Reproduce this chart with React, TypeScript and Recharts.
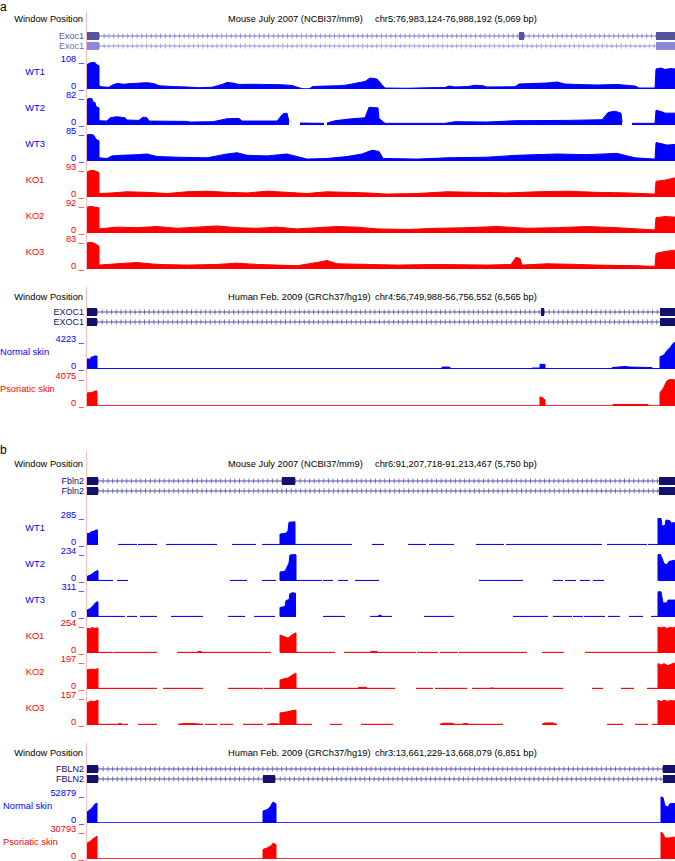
import React from 'react'
import { AreaChart, Area, XAxis, YAxis, ComposedChart, Line, ReferenceArea } from 'recharts'

type Pt = [number, number | null]
type Exon = [number, number]

// every browser window is split into 588 bins (one per screen column of the track)
const BINS = 588
const TRACK_H = 27
const X0 = 87
const FONT = '"Liberation Sans", Arial, Helvetica, sans-serif'
const BLUE = '#0000ff'
const RED = '#ff0000'

// ---- panel a, mouse Exoc1 (chr5:76,983,124-76,988,192) ----
const wt1A: Pt[] = [[0, 98], [3, 104], [6, 108], [8, 106], [10, 96], [12, 94], [12, 14], [14, 9], [22, 7], [25, 15], [30, 22], [37, 19], [42, 21], [50, 23], [58, 25], [63, 24], [68, 20], [72, 13], [85, 10], [100, 8], [112, 5], [125, 7], [135, 18], [140, 26], [146, 24], [152, 18], [165, 19], [180, 18], [195, 17], [205, 14], [212, 5], [216, 1], [222, 1], [226, 10], [240, 12], [252, 13], [260, 16], [270, 24], [278, 30], [283, 44], [290, 40], [296, 12], [298, 4], [320, 3], [340, 5], [358, 6], [362, 12], [368, 8], [381, 10], [388, 15], [396, 13], [400, 8], [428, 9], [432, 20], [445, 22], [460, 24], [470, 28], [478, 20], [490, 18], [510, 16], [530, 18], [548, 12], [552, 4], [568, 4], [569, 80], [574, 84], [578, 78], [584, 82], [588, 80]]
const wt2A: Pt[] = [[0, 78], [3, 82], [5, 80], [6, 70], [8, 68], [9, 56], [12, 52], [12, 13], [20, 12], [23, 22], [30, 25], [38, 22], [40, 15], [52, 14], [56, 24], [60, 22], [62, 12], [100, 11], [103, 9], [126, 10], [140, 19], [152, 20], [155, 12], [190, 12], [196, 34], [200, 36], [202, 10], [207, null], [213, 6], [237, 5], [239, null], [240, 6], [248, 13], [262, 18], [278, 22], [282, 54], [291, 52], [292, 20], [298, 5], [358, 5], [368, 10], [400, 9], [428, 13], [480, 14], [515, 16], [521, 38], [528, 42], [534, 36], [535, 8], [538, null], [545, 5], [568, 5], [569, 45], [575, 40], [578, 36], [588, 36]]
const wt3A: Pt[] = [[0, 82], [4, 85], [7, 80], [9, 68], [12, 64], [12, 10], [20, 8], [25, 16], [35, 18], [50, 20], [60, 22], [70, 14], [90, 12], [120, 10], [140, 22], [150, 26], [160, 18], [180, 16], [200, 22], [210, 14], [220, 6], [240, 8], [260, 14], [275, 22], [285, 34], [292, 30], [296, 8], [330, 6], [360, 10], [400, 12], [430, 18], [470, 22], [500, 20], [530, 24], [548, 10], [568, 6], [569, 58], [575, 54], [580, 50], [588, 52]]
const ko1A: Pt[] = [[0, 86], [4, 92], [8, 90], [12, 84], [12, 12], [25, 14], [40, 18], [60, 16], [80, 12], [100, 18], [120, 20], [140, 16], [160, 14], [180, 20], [200, 16], [220, 12], [240, 18], [260, 16], [280, 14], [300, 10], [330, 12], [360, 18], [390, 16], [420, 14], [450, 18], [480, 20], [510, 16], [540, 14], [568, 10], [569, 54], [578, 58], [588, 66]]
const ko2A: Pt[] = [[0, 88], [4, 92], [8, 88], [12, 86], [12, 14], [30, 20], [50, 18], [70, 22], [90, 16], [110, 20], [130, 24], [150, 18], [170, 16], [190, 20], [210, 14], [230, 18], [250, 22], [270, 20], [290, 14], [320, 12], [350, 16], [380, 18], [410, 22], [440, 16], [470, 18], [500, 22], [530, 18], [560, 12], [568, 10], [569, 52], [578, 56], [588, 54]]
const ko3A: Pt[] = [[0, 80], [4, 83], [8, 78], [12, 70], [12, 12], [30, 16], [50, 20], [70, 14], [100, 12], [130, 14], [150, 18], [170, 14], [190, 12], [210, 10], [230, 20], [240, 26], [250, 16], [280, 14], [310, 12], [350, 14], [400, 12], [424, 14], [429, 36], [433, 32], [435, 12], [460, 16], [490, 14], [510, 12], [550, 10], [568, 8], [569, 48], [578, 54], [588, 58]]
const exoc1Mouse: Exon[][] = [[[0, 12], [432, 437], [569, 588]], [[0, 12], [569, 588]]]

// ---- panel a, human EXOC1 (chr4:56,749,988-56,756,552) ----
const normalA: Pt[] = [[0, 1560], [4, 1560], [4, 1870], [7, 1870], [7, 2030], [10, 2030], [10, 60], [355, 60], [355, 300], [363, 300], [363, 60], [445, 60], [445, 150], [453, 150], [453, 750], [458, 700], [458, 60], [525, 60], [525, 230], [538, 390], [543, 300], [565, 230], [565, 60], [573, 60], [573, 1900], [577, 2200], [580, 2900], [583, 3300], [586, 4000], [588, 4223]]
const psorA: Pt[] = [[0, 1960], [5, 2050], [8, 2260], [10, 2260], [10, 40], [453, 40], [453, 1400], [456, 1200], [458, 900], [458, 40], [526, 40], [526, 230], [561, 230], [561, 40], [573, 40], [573, 2000], [576, 2600], [580, 3800], [584, 4075], [588, 3900]]
const exoc1Human: Exon[][] = [[[0, 10], [454, 457], [573, 588]], [[0, 10], [573, 588]]]

// ---- panel b, mouse Fbln2 (chr6:91,207,718-91,213,467) ----
const wt1B: Pt[] = [[0, 120], [3, 125], [4, 140], [7, 145], [8, 155], [11, 158], [20, null], [31, 6], [50, 6], [50.5, null], [51, 6], [70, 6], [75, null], [79, 6], [130, 6], [138, null], [145, 6], [169, 6], [172, null], [175, 6], [193, 6], [193, 115], [199, 125], [200, 140], [201, 150], [202, 240], [208, 245], [208, 6], [265, 6], [275, null], [285, 6], [297, 6], [310, null], [321, 6], [339, 6], [340, null], [342, 6], [367, 6], [380, null], [389, 6], [417, 6], [418, null], [419, 6], [515, 6], [517, null], [520, 6], [560, 6], [560.5, null], [561, 6], [571, 6], [571, 285], [574, 280], [575, 200], [578, 205], [579, 264], [583, 255], [584, 232], [588, 235]]
const wt2B: Pt[] = [[0, 40], [3, 50], [5, 60], [8, 80], [10, 88], [11, 90], [11, 5], [26, 5], [28, null], [30, 5], [41, 5], [90, null], [143, 5], [160, 5], [167, null], [175, 5], [189, 5], [191, null], [193, 5], [193, 78], [198, 85], [200, 120], [202, 156], [203, 225], [208, 230], [209, 225], [209, 5], [235, 5], [235.5, null], [236, 5], [246, 5], [248, null], [251, 5], [261, 5], [264, null], [268, 5], [292, 5], [340, null], [392, 5], [436, 5], [450, null], [466, 5], [476, 5], [477, null], [478, 5], [489, 5], [491, null], [493, 5], [503, 5], [504, null], [506, 5], [517, 5], [540, null], [571, 5], [571, 230], [573, 234], [575, 200], [577, 150], [580, 140], [582, 170], [588, 180]]
const wt3B: Pt[] = [[0, 80], [3, 95], [6, 130], [9, 170], [11, 175], [11, 7], [38, 7], [39, null], [40, 7], [50, 7], [51, null], [53, 7], [70, 7], [77, null], [84, 7], [116, 7], [130, null], [141, 7], [158, 7], [162, null], [167, 7], [188, 7], [190, null], [193, 7], [193, 110], [198, 120], [199, 190], [202, 200], [203, 270], [206, 280], [209, 270], [220, null], [236, 7], [258, 7], [270, null], [283, 7], [291, 7], [292, 20], [294, 20], [295, 7], [305, 7], [320, null], [337, 7], [367, 7], [400, null], [426, 7], [461, 7], [463, null], [466, 7], [485, 7], [485.5, null], [486, 7], [496, 7], [496.5, null], [497, 7], [518, 7], [519, null], [521, 7], [533, 7], [537, null], [542, 7], [556, 7], [560, null], [564, 7], [571, 7], [571, 290], [574, 290], [576, 160], [580, 165], [581, 195], [588, 195]]
const ko1B: Pt[] = [[0, 235], [3, 225], [5, 240], [8, 230], [11, 238], [11, 6], [26, 6], [26.5, null], [27, 6], [70, 6], [80, null], [90, 6], [110, 6], [111, 14], [114, 14], [115, 6], [184, 6], [188, null], [193, 6], [193, 170], [197, 155], [201, 140], [205, 170], [209, 190], [209, 6], [248, 6], [252, null], [257, 6], [283, 6], [284, 15], [290, 15], [291, 6], [329, 6], [329.5, null], [330, 6], [351, 6], [352, null], [353, 6], [371, 6], [371.5, null], [372, 6], [440, 6], [448, null], [455, 6], [477, 6], [488, null], [498, 6], [571, 6], [571, 245], [574, 235], [577, 245], [580, 230], [583, 240], [586, 235], [588, 245]]
const ko2B: Pt[] = [[0, 140], [5, 145], [8, 140], [11, 150], [11, 5], [70, 5], [73, null], [76, 5], [116, 5], [130, null], [141, 5], [176, 5], [176.5, null], [177, 5], [193, 5], [193, 65], [197, 75], [201, 80], [205, 100], [209, 117], [209, 5], [271, 5], [272, 12], [279, 12], [280, 5], [308, 5], [318, null], [329, 5], [346, 5], [347, null], [348, 5], [380, 5], [382, null], [385, 5], [404, 5], [405, 10], [407, 5], [476, 5], [490, null], [505, 5], [516, 5], [525, null], [534, 5], [547, 5], [553, null], [560, 5], [571, 5], [571, 185], [574, 175], [577, 185], [581, 170], [584, 180], [588, 190]]
const ko3B: Pt[] = [[0, 128], [4, 140], [7, 135], [11, 145], [11, 4], [31, 4], [33, 10], [35, 4], [41, 4], [46, null], [51, 4], [70, 4], [80, null], [91, 4], [96, 8], [106, 8], [116, 4], [117, null], [118, 4], [130, 4], [131, null], [133, 4], [146, 4], [150, null], [156, 4], [176, 4], [178, null], [180, 4], [185, 7], [190, 7], [193, 4], [193, 70], [199, 75], [204, 82], [209, 87], [209, 4], [225, 4], [235, null], [243, 4], [255, 4], [265, null], [274, 4], [306, 4], [330, null], [353, 4], [356, 10], [365, 10], [368, 4], [375, 4], [377, 8], [380, 8], [382, 4], [416, 4], [435, null], [455, 4], [458, 12], [466, 12], [470, 4], [495, null], [520, 4], [536, 4], [542, null], [548, 4], [561, 4], [563, null], [565, 4], [571, 4], [571, 145], [574, 135], [577, 145], [580, 138], [584, 142], [588, 140]]
const fbln2Mouse: Exon[][] = [[[0, 11], [195, 208], [572, 588]], [[0, 11], [572, 588]]]

// ---- panel b, human FBLN2 (chr3:13,661,229-13,668,079) ----
const normalB: Pt[] = [[0, 21500], [3, 26000], [6, 32000], [8, 37000], [10, 39000], [10, 400], [176, 400], [176, 23500], [180, 26000], [183, 31000], [186, 41000], [188, 39000], [189, 37000], [189, 400], [574, 400], [574, 51000], [576, 50000], [578, 34000], [581, 31000], [583, 38000], [588, 38000]]
const psorB: Pt[] = [[0, 18000], [3, 20000], [6, 23000], [10, 26000], [10, 250], [176, 250], [176, 11000], [180, 12500], [184, 15000], [186, 18000], [189, 16500], [189, 250], [574, 250], [574, 30793], [576, 29000], [578, 24000], [582, 24000], [588, 25000]]
const fbln2Human: Exon[][] = [[[0, 11], [576, 588]], [[0, 11], [176, 188], [576, 588]]]

type Align = 'left' | 'right' | 'center'

function Txt({ x, y, children, align = 'left', color = '#000', size = 9.3 }: { x: number; y: number; children: React.ReactNode; align?: Align; color?: string; size?: number }) {
  // y is the visual middle of the capitals
  const style: React.CSSProperties = {
    position: 'absolute', top: y - 3.9, fontSize: size, lineHeight: '8px', color,
    whiteSpace: 'nowrap', fontFamily: FONT,
  }
  if (align === 'right') style.right = 675 - x
  else if (align === 'center') { style.left = x - 40; style.width = 80; style.textAlign = 'center' }
  else style.left = x
  return <div style={style}>{children}</div>
}

function Coverage({ top, pts, max, color, name, nameX = 35, nameAlign = 'center' }: { top: number; pts: Pt[]; max: number; color: string; name: string; nameX?: number; nameAlign?: Align }) {
  const data = pts.map(([x, y]) => ({ x, y }))
  return (
    <>
      <Txt x={nameX} y={top + 9.5} align={nameAlign} color={color}>{name}</Txt>
      <Txt x={84} y={top - 3.3} align="right" color={color}>{max} _</Txt>
      <Txt x={84} y={top + TRACK_H - 3.3} align="right" color={color}>0 _</Txt>
      <div style={{ position: 'absolute', left: X0, top }}>
        <AreaChart width={BINS} height={TRACK_H} data={data} margin={{ top: 0, right: 0, bottom: 0, left: 0 }}>
          <XAxis type="number" dataKey="x" domain={[0, BINS]} hide />
          <YAxis type="number" domain={[0, max]} allowDataOverflow hide />
          <Area
            type="linear" dataKey="y" fill={color} fillOpacity={1} stroke={color} strokeWidth={1}
            connectNulls={false} dot={false} activeDot={false} isAnimationActive={false}
          />
        </AreaChart>
      </div>
    </>
  )
}

function Gene({ top, rows, label, exonColors, intronColors, labelColors }: { top: number; rows: Exon[][]; label: string; exonColors: string[]; intronColors: string[]; labelColors: string[] }) {
  // intron pieces run between consecutive exons
  const introns = rows.map((exons, r) => {
    const out: { x: number; y: number | null }[] = []
    for (let i = 0; i < exons.length - 1; i++) {
      out.push({ x: exons[i][1], y: r + 0.5 }, { x: exons[i + 1][0], y: r + 0.5 })
      out.push({ x: (exons[i + 1][0] + exons[i + 1][1]) / 2, y: null })
    }
    return out
  })
  return (
    <>
      {rows.map((_, r) => (
        <Txt key={r} x={84} y={top + 5 + r * 10} align="right" color={labelColors[r]} size={9}>{label}</Txt>
      ))}
      <div style={{ position: 'absolute', left: X0, top }}>
        <ComposedChart width={BINS} height={20} margin={{ top: 0, right: 0, bottom: 0, left: 0 }}>
          <XAxis type="number" dataKey="x" domain={[0, BINS]} hide />
          <YAxis type="number" domain={[0, 2]} reversed hide />
          {introns.map((d, r) => (
            <Line key={'a' + r} data={d} dataKey="y" type="linear" stroke={intronColors[r]} strokeWidth={1}
              dot={false} activeDot={false} connectNulls={false} isAnimationActive={false} />
          ))}
          {introns.map((d, r) => (
            <Line key={'b' + r} data={d} dataKey="y" type="linear" stroke={intronColors[r]} strokeWidth={5}
              strokeDasharray="1 3.7" strokeOpacity={0.75} dot={false} activeDot={false} connectNulls={false} isAnimationActive={false} />
          ))}
          {rows.map((exons, r) => exons.map(([s, e], i) => (
            <ReferenceArea key={r + '-' + i} x1={s} x2={e} y1={r + 0.1} y2={r + 0.9}
              fill={exonColors[r]} fillOpacity={1} stroke="none" ifOverflow="visible" />
          )))}
        </ComposedChart>
      </div>
    </>
  )
}

function Pink({ y1, y2 }: { y1: number; y2: number }) {
  return <div style={{ position: 'absolute', left: 85.5, top: y1, width: 1.3, height: y2 - y1, background: '#ffbcbc' }} />
}

function Header({ y, assembly, pos }: { y: number; assembly: string; pos: string }) {
  return (
    <>
      <Txt x={83} y={y} align="right">Window Position</Txt>
      <Txt x={228} y={y}>{assembly}</Txt>
      <Txt x={375} y={y}>{pos}</Txt>
    </>
  )
}

const NAVY = '#12126e'
const NAVY_INTRON = '#5050a0'

export default function App() {
  return (
    <div style={{ position: 'absolute', left: 0, top: 0, width: 675, height: 861, overflow: 'hidden', background: '#fff', fontFamily: FONT }}>
      <div style={{ position: 'absolute', left: 0, top: 2.5, fontSize: 12, lineHeight: '9px', fontFamily: FONT }}>a</div>
      <div style={{ position: 'absolute', left: 0, top: 446.3, fontSize: 12, lineHeight: '9px', fontFamily: FONT }}>b</div>

      {/* panel a, mouse */}
      <Pink y1={12} y2={270} />
      <Header y={19} assembly="Mouse July 2007 (NCBI37/mm9)" pos="chr5:76,983,124-76,988,192 (5,069 bp)" />
      <Gene top={31} rows={exoc1Mouse} label="Exoc1" exonColors={['#55559f', '#8a8ad8']} intronColors={['#7474c0', '#9090da']} labelColors={['#55559f', '#7070c0']} />
      <Coverage top={62} pts={wt1A} max={108} color={BLUE} name="WT1" />
      <Coverage top={98} pts={wt2A} max={82} color={BLUE} name="WT2" />
      <Coverage top={134} pts={wt3A} max={85} color={BLUE} name="WT3" />
      <Coverage top={170} pts={ko1A} max={93} color={RED} name="KO1" />
      <Coverage top={206} pts={ko2A} max={92} color={RED} name="KO2" />
      <Coverage top={242} pts={ko3A} max={83} color={RED} name="KO3" />

      {/* panel a, human */}
      <Pink y1={287} y2={407} />
      <Header y={297} assembly="Human Feb. 2009 (GRCh37/hg19)" pos="chr4:56,749,988-56,756,552 (6,565 bp)" />
      <Gene top={307} rows={exoc1Human} label="EXOC1" exonColors={[NAVY, NAVY]} intronColors={[NAVY_INTRON, NAVY_INTRON]} labelColors={[NAVY, NAVY]} />
      <Coverage top={342} pts={normalA} max={4223} color={BLUE} name="Normal skin" nameX={0} nameAlign="left" />
      <Coverage top={379} pts={psorA} max={4075} color={RED} name="Psoriatic skin" nameX={0} nameAlign="left" />

      {/* panel b, mouse */}
      <Pink y1={452} y2={727} />
      <Header y={464} assembly="Mouse July 2007 (NCBI37/mm9)" pos="chr6:91,207,718-91,213,467 (5,750 bp)" />
      <Gene top={476} rows={fbln2Mouse} label="Fbln2" exonColors={[NAVY, NAVY]} intronColors={[NAVY_INTRON, NAVY_INTRON]} labelColors={[NAVY, NAVY]} />
      <Coverage top={518} pts={wt1B} max={285} color={BLUE} name="WT1" />
      <Coverage top={554} pts={wt2B} max={234} color={BLUE} name="WT2" />
      <Coverage top={590} pts={wt3B} max={311} color={BLUE} name="WT3" />
      <Coverage top={626} pts={ko1B} max={254} color={RED} name="KO1" />
      <Coverage top={662} pts={ko2B} max={197} color={RED} name="KO2" />
      <Coverage top={698} pts={ko3B} max={157} color={RED} name="KO3" />

      {/* panel b, human */}
      <Pink y1={743} y2={861} />
      <Header y={753} assembly="Human Feb. 2009 (GRCh37/hg19)" pos="chr3:13,661,229-13,668,079 (6,851 bp)" />
      <Gene top={764} rows={fbln2Human} label="FBLN2" exonColors={[NAVY, NAVY]} intronColors={[NAVY_INTRON, NAVY_INTRON]} labelColors={[NAVY, NAVY]} />
      <Coverage top={796} pts={normalB} max={52879} color={BLUE} name="Normal skin" nameX={3} nameAlign="left" />
      <Coverage top={832} pts={psorB} max={30793} color={RED} name="Psoriatic skin" nameX={3} nameAlign="left" />
    </div>
  )
}
